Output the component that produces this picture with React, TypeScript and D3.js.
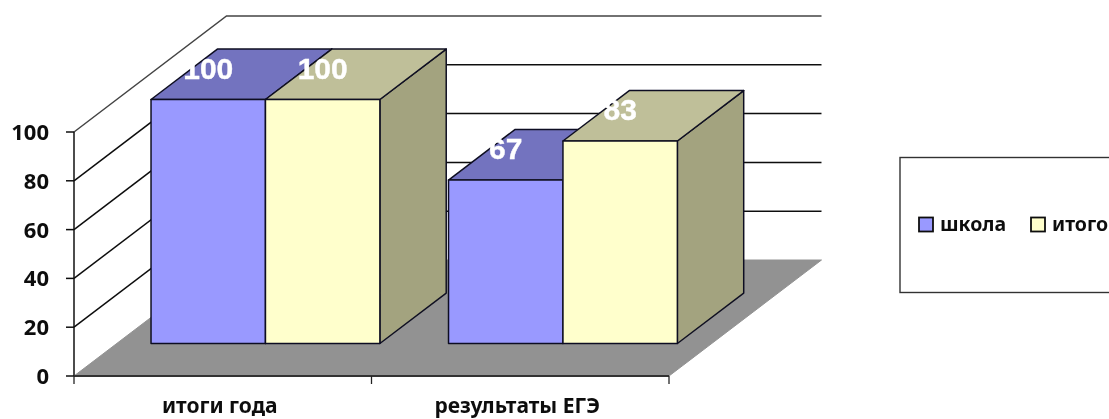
import React from 'react';
import * as d3 from 'd3';

const categories = ['итоги года', 'результаты ЕГЭ'];
const seriesNames = ['школа', 'итого'];
const shkola = [100, 67];
const itogo = [100, 83];
const yTicks = [0, 20, 40, 60, 80, 100];

const seriesValues = [shkola, itogo];
const colors = [
  { front: '#9999ff', top: '#7373bf', side: '#73739f' },
  { front: '#ffffcc', top: '#bfbf99', side: '#a3a37f' },
];

const width = 1109;
const height = 419;
const labelFont = '"Noto Sans", sans-serif';

// oblique projection: depth 0 is the front of the floor, 1 the back wall
const depthX = 152.5;
const depthY = -116;
const barDepthFrom = 0.28;
const barDepthTo = 0.715;

const x = d3.scaleBand<string>().domain(categories).range([74, 669]);
const y = d3.scaleLinear().domain([0, 100]).range([376, 132]);
const inner = d3
  .scaleBand<string>()
  .domain(seriesNames)
  .range([0, x.bandwidth()])
  .paddingOuter(0.3)
  .paddingInner(0);

const project = (px: number, py: number, d: number): [number, number] => [px + depthX * d, py + depthY * d];
const poly = (pts: [number, number][]) => d3.line()(pts) + 'Z';

const Bar = ({ cat, si, value }: { cat: string; si: number; value: number }) => {
  const name = seriesNames[si];
  const x0 = x(cat)! + inner(name)!;
  const x1 = x0 + inner.bandwidth();
  const c = colors[si];
  const a = (px: number, v: number) => project(px, y(v), barDepthFrom);
  const b = (px: number, v: number) => project(px, y(v), barDepthTo);
  const lineColor = '#111122';
  return (
    <g stroke={lineColor} strokeWidth={1.5} strokeLinejoin="round">
      <path d={poly([a(x1, 0), b(x1, 0), b(x1, value), a(x1, value)])} fill={c.side} />
      <path d={poly([a(x0, value), a(x1, value), b(x1, value), b(x0, value)])} fill={c.top} />
      <path d={poly([a(x0, 0), a(x1, 0), a(x1, value), a(x0, value)])} fill={c.front} />
    </g>
  );
};

const App = () => {
  const [xMin, xMax] = x.range();
  const floor = poly([
    project(xMin, y(0), 0),
    project(xMax, y(0), 0),
    project(xMax, y(0), 1),
    project(xMin, y(0), 1),
  ]);
  const tickEdges = [...categories.map((c) => x(c)!), xMax];

  return (
    <svg width={width} height={height} style={{ position: 'absolute', left: 0, top: 0 }}>
      <defs>
        <filter id="soft" x="-2%" y="-2%" width="104%" height="104%">
          <feGaussianBlur stdDeviation="0.45" />
        </filter>
      </defs>
      <rect width={width} height={height} fill="#fff" />
      <g filter="url(#soft)">
        {/* walls */}
        {yTicks.map((t) => {
          const p0 = project(xMin, y(t), 0);
          const p1 = project(xMin, y(t), 1);
          const p2 = project(xMax, y(t), 1);
          return (
            <g key={t}>
              {t > 0 && <path d={d3.line()([p0, p1, p2])!} fill="none" stroke={t === 100 ? '#444' : '#111'} strokeWidth={1.5} />}
              <line x1={xMin - 8} x2={xMin} y1={y(t)} y2={y(t)} stroke="#111" strokeWidth={1.5} />
              <text x={xMin - 25} y={y(t)} dy="0.36em" textAnchor="end" fontFamily={labelFont} fontWeight={700} fontSize={22} fill="#111">
                {t}
              </text>
            </g>
          );
        })}
        <line x1={xMin} x2={xMin} y1={y(100)} y2={y(0)} stroke="#111" strokeWidth={1.5} />

        <path d={floor} fill="#929292" stroke="#929292" strokeWidth={1} />
        <line x1={xMin} x2={xMax} y1={y(0)} y2={y(0)} stroke="#333" strokeWidth={1.8} />
        {tickEdges.map((t) => (
          <line key={t} x1={t} x2={t} y1={y(0)} y2={y(0) + 8} stroke="#222" strokeWidth={1.3} />
        ))}

        {/* bars */}
        {categories.map((cat, ci) =>
          seriesNames.map((_, si) => <Bar key={cat + si} cat={cat} si={si} value={seriesValues[si][ci]} />),
        )}

        {/* data labels */}
        {categories.map((cat, ci) =>
          seriesNames.map((name, si) => {
            const v = seriesValues[si][ci];
            const [px, py] = project(x(cat)! + inner(name)! + inner.bandwidth() / 2, y(v), barDepthFrom);
            return (
              <text
                key={cat + name}
                x={px}
                y={py - 31.5}
                dy="0.36em"
                textAnchor="middle"
                fontFamily='"Liberation Sans", sans-serif'
                fontWeight={700}
                fontSize={30}
                fill="#fff"
                stroke="#fff"
                strokeWidth={0.4}
              >
                {v}
              </text>
            );
          }),
        )}

        {/* category labels */}
        {categories.map((cat) => (
          <text
            key={cat}
            x={x(cat)! + x.bandwidth() / 2 - 3}
            y={412.5}
            textAnchor="middle"
            fontFamily={labelFont}
            fontWeight={700}
            fontSize={21}
            fill="#111"
          >
            {cat}
          </text>
        ))}

        {/* legend */}
        <rect x={900} y={157.5} width={240} height={135} fill="#fff" stroke="#333" strokeWidth={1.4} />
        {seriesNames.map((name, si) => {
          const lx = d3.scaleOrdinal<string, number>().domain(seriesNames).range([919, 1031])(name);
          return (
            <g key={name}>
              <rect x={lx} y={217.5} width={14} height={14} fill={colors[si].front} stroke="#111" strokeWidth={1.8} />
              <text x={lx + 21} y={231} fontFamily={labelFont} fontWeight={700} fontSize={19.5} fill="#111">
                {name}
              </text>
            </g>
          );
        })}
      </g>
    </svg>
  );
};

export default App;
